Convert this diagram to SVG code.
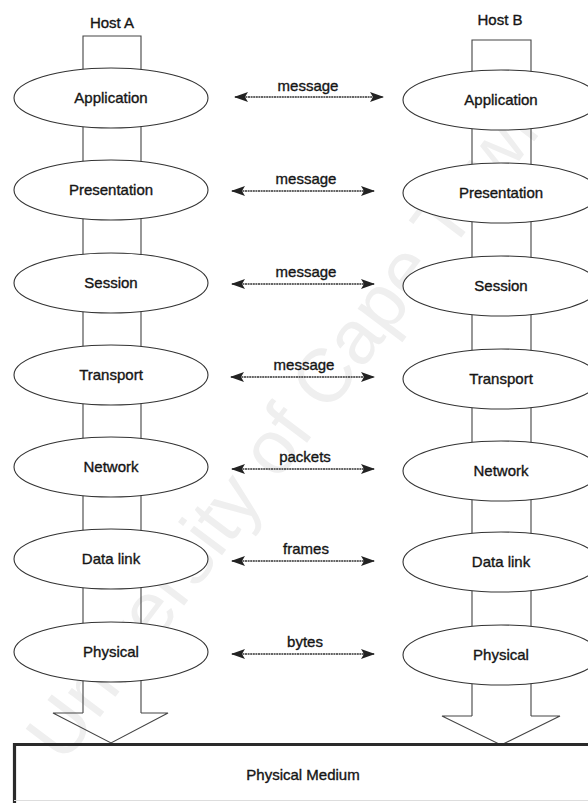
<svg xmlns="http://www.w3.org/2000/svg" width="588" height="803" viewBox="0 0 588 803">
<defs>
<marker id="ah" viewBox="0 0 14 10" refX="13" refY="5" markerWidth="14" markerHeight="10" markerUnits="userSpaceOnUse" orient="auto-start-reverse">
<path d="M0,0 L14,5 L0,10 L3,5 Z" fill="#222"/>
</marker>
<style>
.lbl{font-family:"Liberation Sans",Arial,sans-serif;font-size:15px;fill:#151515;stroke:#151515;stroke-width:0.35;text-anchor:middle}
.ell{fill:#fff;stroke:#333;stroke-width:1.1}
.col{fill:none;stroke:#444;stroke-width:1.1}
.arr{stroke:#333;stroke-width:1.3;stroke-dasharray:2 0.6;marker-start:url(#ah);marker-end:url(#ah)}
.wm{font-family:"Liberation Sans",Arial,sans-serif;font-size:76px;fill:#efefef}
</style>
</defs>
<rect width="588" height="803" fill="#fff"/>
<text class="wm" transform="translate(64,765) rotate(-53)">University of Cape Town</text>

<g id="hostA">
<text class="lbl" x="112" y="28">Host A</text>
<path class="col" d="M83,713 V36 H141 V713"/>
<polyline class="col" points="83,713 53,713 111,743 168,713 141,713"/>
</g>
<g id="hostB">
<text class="lbl" x="500" y="25">Host B</text>
<path class="col" d="M472,716 V40 H531 V716"/>
<polyline class="col" points="472,716 442,716 501,745 560,716 531,716"/>
</g>

<g id="A-application"><ellipse class="ell" cx="111" cy="98" rx="97" ry="30"/><text class="lbl" x="111" y="103">Application</text></g>
<g id="A-presentation"><ellipse class="ell" cx="111" cy="190" rx="97" ry="30"/><text class="lbl" x="111" y="195">Presentation</text></g>
<g id="A-session"><ellipse class="ell" cx="111" cy="283" rx="97" ry="30"/><text class="lbl" x="111" y="288">Session</text></g>
<g id="A-transport"><ellipse class="ell" cx="111" cy="375" rx="97" ry="30"/><text class="lbl" x="111" y="380">Transport</text></g>
<g id="A-network"><ellipse class="ell" cx="111" cy="467" rx="97" ry="30"/><text class="lbl" x="111" y="472">Network</text></g>
<g id="A-datalink"><ellipse class="ell" cx="111" cy="559" rx="97" ry="30"/><text class="lbl" x="111" y="564">Data link</text></g>
<g id="A-physical"><ellipse class="ell" cx="111" cy="652" rx="97" ry="30"/><text class="lbl" x="111" y="657">Physical</text></g>

<g id="B-application"><ellipse class="ell" cx="501" cy="100" rx="98" ry="30"/><text class="lbl" x="501" y="105">Application</text></g>
<g id="B-presentation"><ellipse class="ell" cx="501" cy="193" rx="98" ry="30"/><text class="lbl" x="501" y="198">Presentation</text></g>
<g id="B-session"><ellipse class="ell" cx="501" cy="286" rx="98" ry="30"/><text class="lbl" x="501" y="291">Session</text></g>
<g id="B-transport"><ellipse class="ell" cx="501" cy="379" rx="98" ry="30"/><text class="lbl" x="501" y="384">Transport</text></g>
<g id="B-network"><ellipse class="ell" cx="501" cy="471" rx="98" ry="30"/><text class="lbl" x="501" y="476">Network</text></g>
<g id="B-datalink"><ellipse class="ell" cx="501" cy="562" rx="98" ry="30"/><text class="lbl" x="501" y="567">Data link</text></g>
<g id="B-physical"><ellipse class="ell" cx="501" cy="655" rx="98" ry="30"/><text class="lbl" x="501" y="660">Physical</text></g>

<g id="medium">
<path d="M14.5,803 V744.5 H588" fill="none" stroke="#2a2a2a" stroke-width="3.2"/>
<line x1="14" y1="800.5" x2="588" y2="800.5" stroke="#ddd" stroke-width="1"/>
<text class="lbl" x="303" y="780">Physical Medium</text>
</g>

<g id="connectors">
<line class="arr" x1="235" y1="97" x2="383" y2="97"/>
<text class="lbl" x="308" y="91">message</text>
<line class="arr" x1="232" y1="191" x2="374" y2="191"/>
<text class="lbl" x="306" y="184">message</text>
<line class="arr" x1="232" y1="284" x2="374" y2="284"/>
<text class="lbl" x="306" y="277">message</text>
<line class="arr" x1="231" y1="377" x2="374" y2="377"/>
<text class="lbl" x="304" y="370">message</text>
<line class="arr" x1="232" y1="469" x2="374" y2="469"/>
<text class="lbl" x="305" y="462">packets</text>
<line class="arr" x1="232" y1="561" x2="374" y2="561"/>
<text class="lbl" x="306" y="554">frames</text>
<line class="arr" x1="232" y1="654" x2="374" y2="654"/>
<text class="lbl" x="305" y="647">bytes</text>
</g>
</svg>
